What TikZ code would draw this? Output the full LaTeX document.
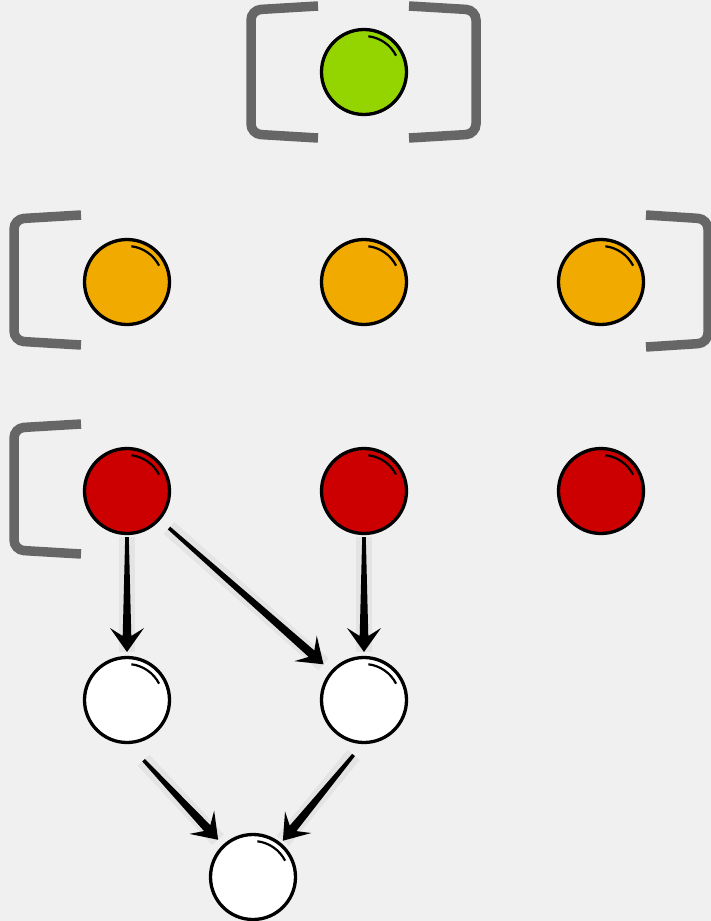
\documentclass[tikz,border=0pt]{standalone}
\usepackage{tikz}
\usetikzlibrary{calc}

\definecolor{paper}{HTML}{F0F0F0}
\definecolor{leaf}{HTML}{94D500}
\definecolor{amber}{HTML}{F0AA00}
\definecolor{crimson}{HTML}{CC0000}
\definecolor{bracketgray}{HTML}{666666}

% tapered arrow: #1 start, #2 tip
\newcommand{\flowarrow}[2]{%
  \draw[line width=16pt,draw=paper!95!black] #1 -- #2;
  \fill let \p1=#1, \p2=#2, \n1={atan2(\y2-\y1,\x2-\x1)} in
    ($(\p1)+(\n1+90:1.8pt)$) -- ($(\p2)+(\n1+180:16pt)+(\n1+90:4.3pt)$)
    -- ($(\p2)+(\n1+180:24pt)+(\n1+90:17pt)$) -- (\p2)
    -- ($(\p2)+(\n1+180:24pt)+(\n1-90:17pt)$) -- ($(\p2)+(\n1+180:16pt)+(\n1-90:4.3pt)$)
    -- ($(\p1)+(\n1-90:1.8pt)$) -- cycle;
}

\begin{document}
\begin{tikzpicture}[
  x=1pt,y=1pt,
  ball/.style={circle,draw=black,line width=3.3pt,minimum size=85pt,inner sep=0pt,
    path picture={\draw[line width=2.2pt] ([shift={(83:36pt)}]path picture bounding box.center)
      arc[start angle=83,end angle=27,radius=36pt];}},
  bracket/.style={draw=bracketgray,line width=9.5pt,rounded corners=10pt}
]
\fill[paper] (0,0) rectangle (711,-921);
\useasboundingbox (0,0) rectangle (711,-921);

% brackets
\draw[bracket] (318,-6) -- (251,-10) -- (251,-134) -- (318,-138);
\draw[bracket] (409,-6) -- (476,-10) -- (476,-134) -- (409,-138);
\draw[bracket] (81,-215) -- (14,-219) -- (14,-341) -- (81,-345);
\draw[bracket] (646,-215) -- (708,-219) -- (708,-343) -- (646,-347);
\draw[bracket] (81,-424) -- (14,-428) -- (14,-550) -- (81,-554);

% balls
\node[ball,fill=leaf] (top) at (364,-72) {};
\foreach \n/\x in {o1/127,o2/364,o3/601}
  \node[ball,fill=amber] (\n) at (\x,-282) {};
\foreach \n/\x in {r1/127,r2/364,r3/601}
  \node[ball,fill=crimson] (\n) at (\x,-491) {};
\node[ball,fill=white] (w1) at (127,-700) {};
\node[ball,fill=white] (w2) at (364,-700) {};
\node[ball,fill=white] (out) at (253,-877) {};

% arrows
\flowarrow{($(r1)!46pt!(w1)$)}{($(w1)!48pt!(r1)$)}
\flowarrow{($(r2)!46pt!(w2)$)}{($(w2)!48pt!(r2)$)}
\flowarrow{($(r1)!56pt!(w2)$)}{($(w2)!54pt!(r1)$)}
\flowarrow{($(w1.-88)!22pt!(out)$)}{($(out)!51pt!(w1.-88)$)}
\flowarrow{($(w2.-92)!14pt!(out)$)}{($(out)!47pt!(w2.-92)$)}
\end{tikzpicture}
\end{document}
